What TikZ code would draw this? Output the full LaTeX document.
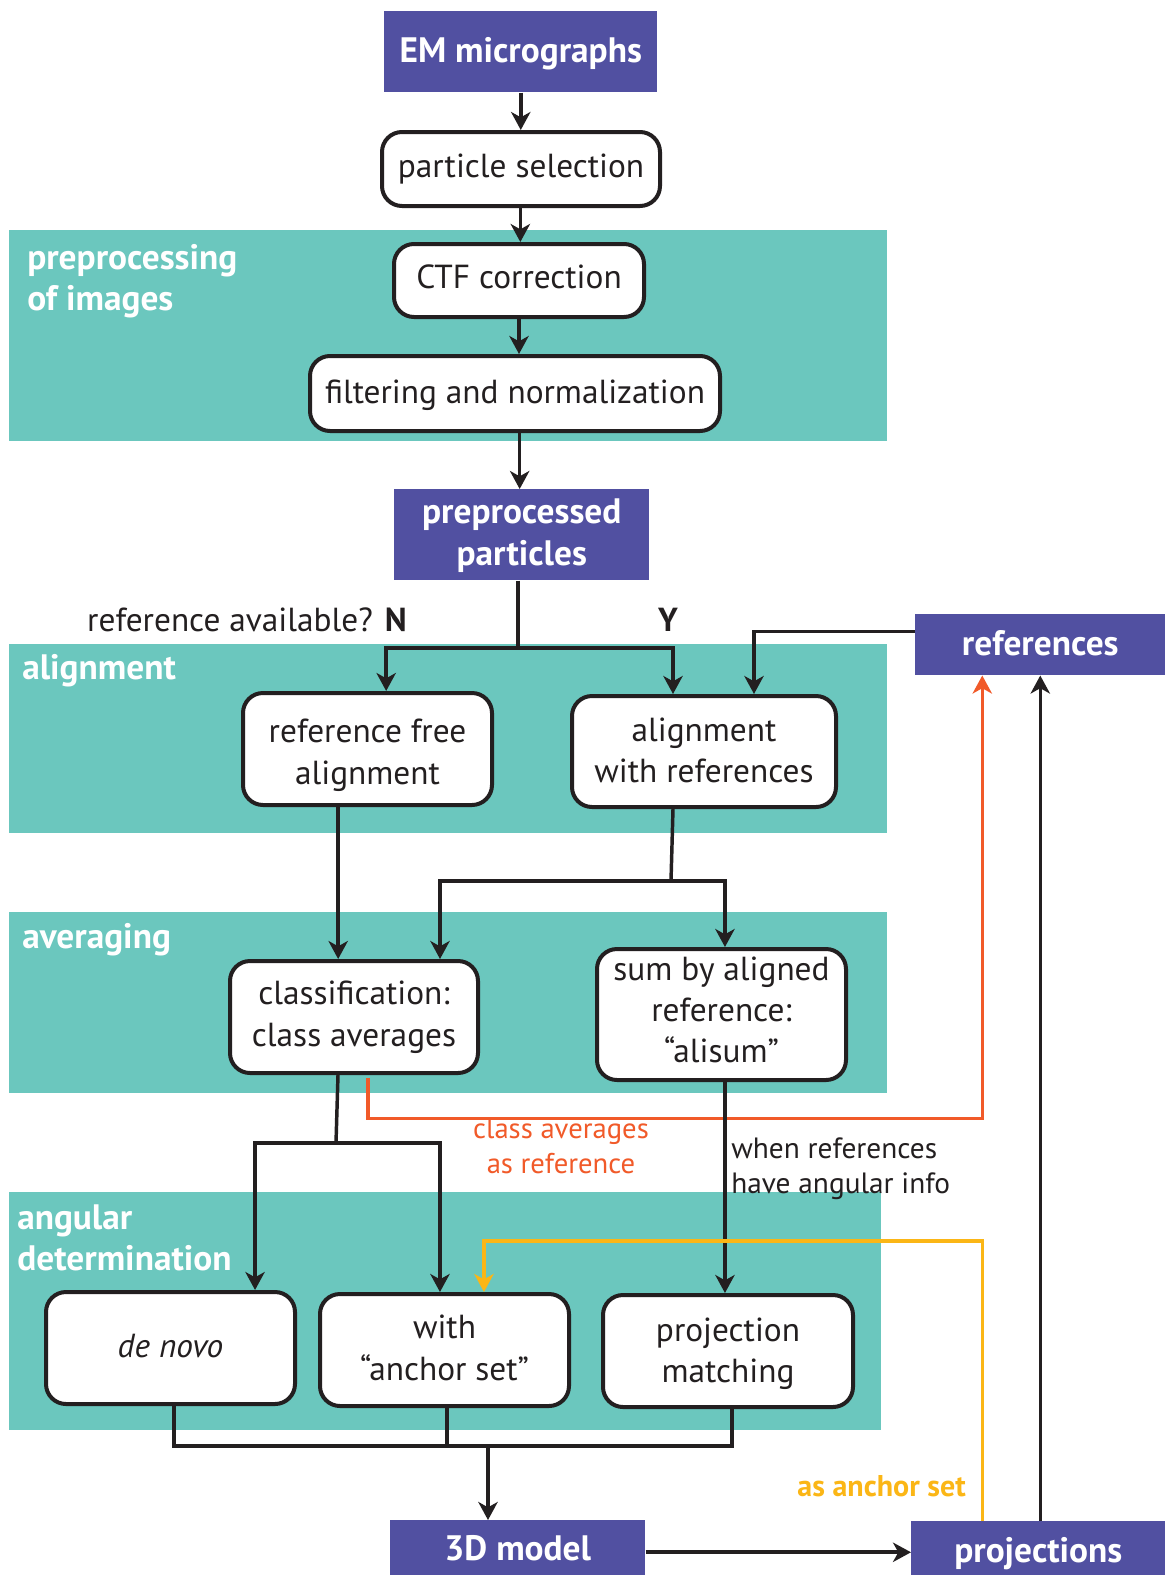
\documentclass[tikz,border=0pt]{standalone}
\usepackage{fontspec}
\setmainfont{PT Sans}
\usetikzlibrary{arrows.meta,calc}
\definecolor{purp}{HTML}{5150A1}
\definecolor{tealbg}{HTML}{6BC7BE}
\definecolor{orng}{HTML}{F15A29}
\definecolor{yllw}{HTML}{FBB616}
\definecolor{dark}{HTML}{231F20}
\newcommand\mainsz{\fontsize{25}{31}\selectfont}
\newcommand\boldsz{\fontsize{26.5}{31}\selectfont\bfseries}
\newcommand\smallsz{\fontsize{21.5}{26.5}\selectfont}
% text block visually centred in its node: [shift down in pt]{lines}{text}
\newcommand\tb[3][0]{\raisebox{\dimexpr 15.5pt*(#2-1)-6.25pt-(#1pt)\relax}[0pt][0pt]{\begin{tabular}[t]{@{}c@{}}#3\end{tabular}}}
\tikzset{
  px/.style 2 args={minimum width=#1*0.75pt, minimum height=#2*0.75pt},
  rbox/.style={draw=dark, line width=3pt, fill=white, rounded corners=15pt,
    align=center, inner sep=0pt, font=\mainsz, text=dark, anchor=north west},
  pbox/.style={fill=purp, text=white, align=center, inner sep=0pt,
    font=\boldsz, anchor=north west},
  region/.style={fill=tealbg, inner sep=0pt, anchor=north west},
  rlabel/.style={text=white, font=\boldsz, align=left, anchor=west, inner sep=0pt},
  conn/.style={line width=2.6pt, draw=dark},
  tip/.style={-{Stealth[length=13.5pt,width=14.5pt,inset=4pt]}},
  arr/.style={conn, tip},
  oarr/.style={line width=2.6pt, draw=orng, tip},
  yarr/.style={line width=2.6pt, draw=yllw, tip},
}
\begin{document}
\begin{tikzpicture}[x=0.75pt,y=-0.75pt]
\useasboundingbox (0,0) rectangle (1165,1575);
\fill[white] (0,0) rectangle (1165,1575);

% background regions
\node[region, px={878}{211}] (regpre) at (9,230) {};
\node[region, px={878}{189}] (regali) at (9,644) {};
\node[region, px={878}{181}] (regavg) at (9,912) {};
\node[region, px={872}{238}] (regang) at (9,1192) {};

\node[rlabel] (lpre) at (27,281) {preprocessing\\of images};
\node[rlabel] (lali) at (22,671) {alignment};
\node[rlabel] (lavg) at (22,940) {averaging};
\node[rlabel] (lang) at (17,1238) {angular\\determination};

% main nodes
\node[pbox, px={273}{81}] (em) at (384,11) {\tb[1.5]{1}{EM micrographs}};
\node[rbox, px={278}{74}] (ps) at (380,130) {\tb{1}{particle selection}};
\node[rbox, px={250}{73}] (ctf) at (392,242) {\tb{1}{CTF correction}};
\node[rbox, px={410}{75}] (fil) at (308,354) {\tb[1.5]{1}{filtering and normalization}};
\node[pbox, px={255}{91}] (pp) at (394,489) {\tb[1]{2}{preprocessed\\particles}};

\node[pbox, px={250}{61}] (refs) at (915,614) {\tb[1.5]{1}{references}};
\node[rbox, px={249}{112}] (rfa) at (241,691) {\tb[4.5]{2}{reference free\\alignment}};
\node[rbox, px={264}{111}] (awr) at (570,694) {\tb[1.5]{2}{alignment\\with references}};

\node[rbox, px={248}{112}] (cls) at (228,959) {\tb{2}{classification:\\class averages}};
\node[rbox, px={249}{131}] (sum) at (595,947) {\tb[-1]{3}{sum by aligned\\reference:\\“alisum”}};

\node[rbox, px={249}{112}] (dn) at (44,1290) {\tb[0.75]{1}{\itshape de novo}};
\node[rbox, px={249}{112}] (anc) at (318,1292) {\tb[0.75]{2}{with\\“anchor set”}};
\node[rbox, px={250}{112}] (prj) at (601,1293) {\tb[1.75]{2}{projection\\matching}};

\node[pbox, px={255}{56}] (m3d) at (390,1520) {\tb[3]{1}{3D model}};
\node[pbox, px={254}{55}] (proj) at (911,1521) {\tb[4]{1}{projections}};

% text labels
\node[font=\mainsz, text=dark, anchor=east, inner sep=0pt] (qref) at (407,620) {reference available?\hspace{9pt}\textbf{N}};
\node[font=\mainsz\bfseries, text=dark, inner sep=0pt] (yes) at (668,620) {Y};
\node[font=\smallsz, text=orng, align=center, inner sep=0pt] (lcar) at (561,1146) {class averages\\as reference};
\node[font=\fontsize{22}{26.5}\selectfont, text=dark, align=left, anchor=west, inner sep=0pt] (lwhen) at (731,1168.5) {when references\\have angular info};
\node[font=\fontsize{22.5}{27}\selectfont\bfseries, text=yllw, anchor=east, inner sep=0pt] (lanc) at (966,1486) {as anchor set};

% junction coordinates
\coordinate (j1) at (518,648);
\coordinate (j2) at (671,881);
\coordinate (j3) at (336,1143);
\coordinate (j4) at (488,1446);

% connectors
\draw[arr] (em.south) -- (em.south |- ps.north);
\draw[arr] ([xshift=-0.5pt]ps.south) -- ([xshift=-0.5pt]ps.south |- ctf.north);
\draw[arr] (ctf.south) -- (ctf.south |- fil.north);
\draw[arr] ([xshift=3.5pt]fil.south) -- ([xshift=3.5pt]fil.south |- pp.north);

\draw[conn] (pp.south -| j1) -- (j1);
\draw[arr] (j1) -| ([xshift=14pt]rfa.north);
\draw[arr] (j1) -| ([xshift=-23.25pt]awr.north);
\draw[arr] ([yshift=10pt]refs.west) -| ([xshift=37.5pt]awr.north);

\draw[arr] ([xshift=-22pt]rfa.south) -- ([xshift=-22pt]rfa.south |- cls.north);
\draw[conn] ([xshift=-23.25pt]awr.south) -- (j2);
\draw[arr] (j2) -| ([xshift=64.5pt]cls.north);
\draw[arr] (j2) -| ([xshift=2.6pt]sum.north);

\draw[oarr] ([xshift=10.5pt,yshift=-2pt]cls.south) -- ++(0,41) -| ([xshift=-43.5pt]refs.south);

\draw[conn] ([xshift=-12pt]cls.south) -- (j3);
\draw[arr] (j3) -| ([xshift=63.4pt]dn.north);
\draw[arr] (j3) -| ([xshift=-3.4pt]anc.north);
\draw[arr] ([xshift=2.6pt]sum.south) -- ([xshift=2.6pt]sum.south |- prj.north);

\draw[yarr] ([xshift=-42pt]proj.north) -- ++(0,-280) -| ([xshift=29.6pt]anc.north);
\draw[arr] ([xshift=1.5pt]proj.north) -- ([xshift=1.5pt]proj.north |- refs.south);

\draw[conn] ([xshift=2.6pt]dn.south) |- (j4) -| ([xshift=3pt]prj.south);
\draw[conn] ([xshift=1.9pt]anc.south) -- ([xshift=1.9pt]anc.south |- j4);
\draw[arr] (j4) -- (j4 |- m3d.north);
\draw[arr, line width=3.2pt] ([yshift=-3pt]m3d.east) -- ([yshift=-3pt]m3d.east -| proj.west);
\end{tikzpicture}
\end{document}
